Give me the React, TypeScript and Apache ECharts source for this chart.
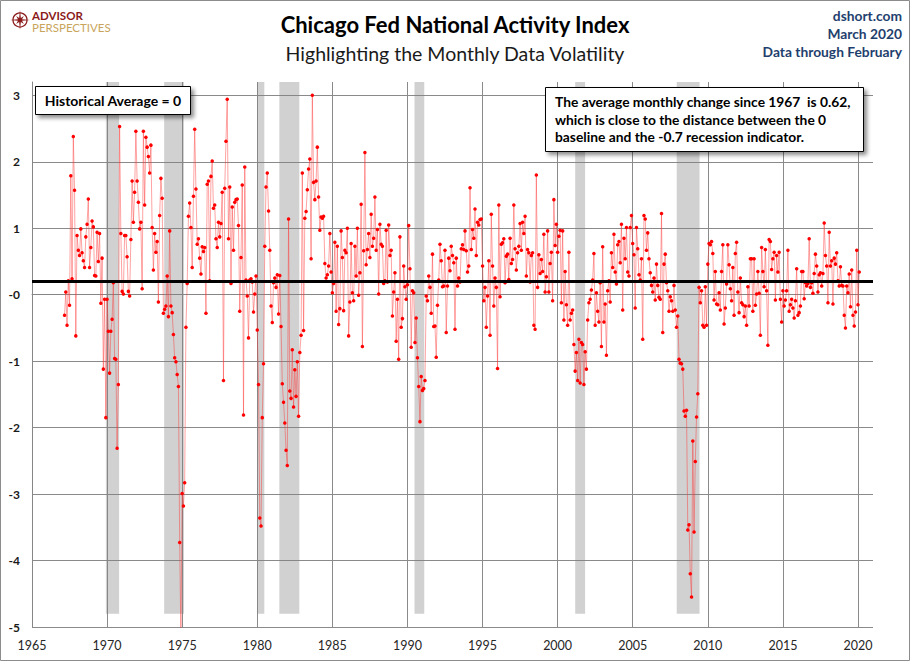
import React, { useEffect, useRef } from "react";
import * as echarts from "echarts";

// Chicago Fed National Activity Index, monthly, starting March 1967
const START_YEAR = 1967;
const START_MONTH = 3;

const cfnai1960s = [
  /*1967 Mar-Dec*/ -0.31, 0.04, -0.46, 0.21, -0.16, 1.79, 0.24, 2.38, 1.57, -0.62,
  /*1968*/ 0.89, 0.67, 0.59, 0.99, 0.63, 0.51, 0.41, 0.87, 1.06, 1.44, 0.41, 0.71,
  /*1969*/ 1.11, 1.02, 0.29, 0.28, 0.94, 0.5, 0.92, -0.13, 0.55, -1.12, -0.07, -1.85,
];
const cfnai1970s = [
  /*1970*/ -0.07, -0.55, -1.18, -0.55, -0.37, 0.18, -0.96, -0.97, -2.31, -1.35, 2.53, 0.92,
  /*1971*/ 0.05, 0.01, 0.89, 0.89, 0.57, 0.05, -0.02, 0.83, 1.71, 1.09, 1.54, 2.46,
  /*1972*/ 1.71, 1.39, 0.99, 1.09, 0.09, 2.46, 1.35, 2.37, 2.22, 2.08, 1.83, 2.25,
  /*1973*/ 1.01, 0.37, 0.92, 0.64, 0.8, -0.11, 1.19, 1.75, 1.45, -0.28, -0.22, -0.17,
  /*1974*/ 0.28, -0.33, 0.96, -0.17, -0.27, -0.6, -0.95, -1.01, -1.2, -1.38, -3.73, -5.2,
  /*1975*/ -2.99, -3.18, -2.83, -0.49, 0.17, 1.18, 1.38, 1.01, 0.41, 1.48, 2.49, 1.59,
  /*1976*/ 0.76, 0.84, 0.55, 0.31, 0.72, 0.65, 0.71, -0.28, 1.66, 1.71, 0.21, 1.78,
  /*1977*/ 2.01, 1.3, 1.35, 0.84, 0.71, 1.09, 0.87, 1.07, 1.54, -1.29, 1.6, 2.31,
  /*1978*/ 2.94, 0.84, 1.62, 0.17, 1.32, 0.67, 1.39, 1.43, 1.44, 1.04, -0.25, 0.56,
  /*1979*/ 1.65, -1.81, 1.92, 0.22, -0.02, -0.65, 0.22, 0.24, 0.19, -0.26, 0.01, 0.28,
];
const cfnai1980s = [
  /*1980*/ -0.53, -1.35, -3.36, -3.48, -1.85, -1.04, 0.73, 1.62, 1.83, 1.26, 0.67, -0.17,
  /*1981*/ -0.42, 0.18, 0.25, 0.11, 0.3, -0.29, 0.29, -0.48, -1.34, -1.62, -1.93, -2.34,
  /*1982*/ -2.57, 1.14, -1.45, -1.56, -0.83, -1.69, -1.13, -1.53, -1.01, -1.83, -0.87, -0.61,
  /*1983*/ 1.83, -0.54, 1.15, 1.25, 1.58, 1.89, 2.04, 0.54, 3.0, 1.69, 1.43, 1.71,
  /*1984*/ 2.22, 1.47, 0.97, 1.17, 1.15, 1.18, 0.47, 0.25, 0.3, 0.43, 0.92, 0.34,
  /*1985*/ 0.03, 0.17, 0.79, -0.25, 0.73, -0.45, -0.21, 0.96, 0.56, -0.24, 0.67, 0.63,
  /*1986*/ 1.0, -0.62, -0.11, 0.77, 0.03, -0.09, 0.73, 0.28, 1.0, -0.01, 0.33, 1.36,
  /*1987*/ -0.78, 0.66, 2.14, 0.45, 0.68, 0.92, 0.56, 1.21, 0.73, 0.85, 1.47, 0.67,
  /*1988*/ 0.98, 0.01, 1.06, 0.76, 0.73, 0.17, 0.21, 0.97, 0.19, 1.05, 0.59, 0.67,
  /*1989*/ -0.32, 0.04, 0.33, -0.7, -0.07, -0.97, 0.87, -0.49, -0.36, 0.43, 0.12, -0.07,
];
const cfnai1990s = [
  /*1990*/ 0.15, 1.04, 0.39, -0.79, 0.06, 0.03, -0.72, -0.35, -0.95, -1.38, -1.91, -1.23,
  /*1991*/ -1.44, -1.41, -1.29, -0.02, -0.09, 0.28, 0.11, -0.28, 0.61, -0.48, -0.47, -0.94,
  /*1992*/ -0.16, 0.22, 0.76, 0.51, 0.12, 0.13, 0.67, -0.57, 0.13, 0.55, 0.36, 0.73,
  /*1993*/ 0.59, 0.48, -0.52, 0.55, 0.13, 0.25, 0.19, 0.69, 0.75, 0.68, 0.96, 0.66,
  /*1994*/ 0.34, 0.43, 1.61, 0.68, 0.98, 0.85, 1.29, 0.59, 1.09, 1.05, 1.13, 1.14,
  /*1995*/ 0.43, -0.09, 0.11, -0.49, -0.02, 0.51, -0.61, 1.21, 0.43, -0.17, 0.25, 0.11,
  /*1996*/ -1.11, 1.35, -0.03, 0.76, 0.78, 0.84, 0.18, 0.58, 0.61, 0.23, 0.85, 0.47,
  /*1997*/ 0.53, 1.35, 0.69, 0.37, 0.63, 0.73, 1.07, 0.67, 1.09, 0.92, 1.18, 0.28,
  /*1998*/ 0.68, 0.63, 0.19, 0.59, 0.63, -0.46, -0.52, 1.8, 0.11, 0.6, 0.32, 0.53,
  /*1999*/ 0.35, 0.91, 0.04, 0.27, 0.96, 0.04, 0.47, 0.64, -0.09, 1.43, 0.74, 1.06,
];
const cfnai2000s = [
  /*2000*/ 0.64, 0.88, 0.97, -0.12, 0.96, -0.38, 0.35, -0.15, -0.46, 0.64, -0.38, -0.28,
  /*2001*/ -0.23, -0.75, -1.15, -0.87, -1.29, -0.67, -1.33, -0.72, -0.75, -1.35, -0.86, -1.12,
  /*2002*/ -0.38, -0.12, -0.07, 0.07, 0.22, 0.62, -0.46, 0.03, -0.25, -0.41, 0.18, -0.78,
  /*2003*/ 0.72, -0.41, -0.14, -0.91, 0.06, 0.21, -0.11, 0.63, 0.41, 0.91, 0.34, 0.16,
  /*2004*/ 0.75, 0.8, 0.48, 1.06, -0.23, 0.85, 0.54, 1.01, 0.34, 0.28, 1.01, 1.19,
  /*2005*/ 0.77, 0.6, -0.2, 1.01, 0.69, 0.3, 0.22, 0.54, -0.67, 1.19, 1.14, 0.67,
  /*2006*/ 0.93, 0.54, 0.33, 0.14, 0.04, 0.25, -0.08, 0.46, 0.14, -0.04, -0.07, 1.22,
  /*2007*/ -0.57, 0.46, 0.61, 0.18, 0.06, -0.25, -0.03, -0.09, -0.25, 0.14, -0.23, -0.49,
  /*2008*/ -0.32, -0.97, -1.03, -1.04, -1.12, -1.75, -1.83, -1.74, -3.54, -3.46, -4.2, -4.55,
  /*2009*/ -2.2, -3.57, -2.51, -1.84, -1.49, 0.11, -0.12, 0.06, -0.46, -0.49, 0.12, -0.46,
];
const cfnai2010s = [
  /*2010*/ 0.46, 0.77, 0.75, 0.8, 0.62, -0.08, 0.35, -0.14, -0.15, 0.03, -0.23, 0.35,
  /*2011*/ 0.75, -0.44, -0.2, 0.16, 0.75, 0.45, 0.09, -0.09, 0.41, -0.31, 0.62, 0.79,
  /*2012*/ 0.04, -0.27, 0.25, -0.12, -0.15, -0.33, -0.17, -0.46, 0.12, -0.17, 0.54, 0.54,
  /*2013*/ -0.25, 0.54, -0.16, 0.01, 0.35, 0.02, -0.61, 0.71, 0.35, 0.12, 0.68, 0.06,
  /*2014*/ -0.76, 0.83, 0.8, 0.38, 0.54, 0.64, -0.08, 0.59, 0.34, 0.64, -0.07, -0.41,
  /*2015*/ 0.06, -0.17, -0.08, 0.06, 0.67, -0.25, -0.15, -0.07, -0.2, -0.35, -0.09, 0.39,
  /*2016*/ -0.31, -0.27, -0.17, 0.35, 0.35, -0.06, 0.18, 0.13, 0.17, 0.84, 0.11, 0.18,
  /*2017*/ 0.02, 0.32, 0.61, 0.43, 0.04, 0.3, 0.33, 0.13, 0.32, 1.08, 0.59, 0.43,
  /*2018*/ -0.12, 0.94, 0.43, 0.51, -0.14, 0.55, 0.46, 0.63, 0.21, 0.13, 0.42, 0.14,
  /*2019*/ 0.13, -0.31, -0.5, 0.13, 0.03, 0.31, -0.18, 0.37, -0.31, -0.47, -0.26, 0.67,
];
const cfnai2020s = [/*2020 Jan-Feb*/ -0.15, 0.34];

// NBER recessions (decimal years, as shaded on the chart)
const recessionStart = [1969.92, 1973.8, 1980.0, 1981.47, 1990.47, 2001.17, 2007.93];
const recessionEnd = [1970.8, 1975.12, 1980.47, 1982.8, 1991.12, 2001.83, 2009.45];

const HIGHLIGHT_LEVEL = 0.2;

const FONT = 'Lato, "Open Sans", "Noto Sans", sans-serif';

const allValues = [
  ...cfnai1960s,
  ...cfnai1970s,
  ...cfnai1980s,
  ...cfnai1990s,
  ...cfnai2000s,
  ...cfnai2010s,
  ...cfnai2020s,
];

function buildOption() {
  const seriesData = allValues.map((v, i) => [START_YEAR + (START_MONTH - 1 + i) / 12, v]);
  const areas = recessionStart.map((s, i) => [
    { xAxis: s, yAxis: -4.8 },
    { xAxis: recessionEnd[i], yAxis: 3.2 },
  ]);

  // compass rose star for logo
  const cx = 20, cy = 20;
  const starPts: number[][] = [];
  for (let k = 0; k < 16; k++) {
    const ang = (k * Math.PI) / 8 - Math.PI / 2;
    const r = k % 4 === 0 ? 10 : k % 2 === 0 ? 5.5 : 2.2;
    starPts.push([cx + r * Math.cos(ang), cy + r * Math.sin(ang)]);
  }

  const header = (text: string, y: number) => ({
    type: "text",
    x: 902,
    y,
    style: {
      text,
      fill: "#1f3f6e",
      fontFamily: FONT,
      fontWeight: "bold",
      fontSize: 13.8,
      textAlign: "right",
      textVerticalAlign: "middle",
    },
  });

  return {
    animation: false,
    backgroundColor: "#ffffff",
    grid: { left: 32, right: 37, top: 82, bottom: 34, containLabel: false },
    xAxis: {
      type: "value",
      min: 1965,
      max: 2021,
      interval: 5,
      axisLine: { show: true, lineStyle: { color: "#868686", width: 1 } },
      axisTick: { show: false },
      axisLabel: {
        margin: 12,
        fontSize: 12.5,
        color: "#262626",
        fontFamily: FONT,
        showMaxLabel: false,
        formatter: (v: number) => (v % 5 === 0 ? String(v) : ""),
      },
      splitLine: { show: true, showMaxLine: false, lineStyle: { color: "#8a8a8a", width: 1 } },
    },
    yAxis: {
      type: "value",
      min: -5,
      max: 3.2,
      interval: 1,
      axisLine: { show: true, lineStyle: { color: "#868686", width: 1 } },
      axisTick: { show: false },
      axisLabel: {
        margin: 12,
        fontSize: 12,
        color: "#1a1a1a",
        fontFamily: FONT,
        fontWeight: "bold",
        showMaxLabel: false,
        formatter: (v: number) => (!Number.isInteger(v) ? "" : v === 0 ? "-0" : String(v)),
      },
      splitLine: { show: true, showMaxLine: false, lineStyle: { color: "#8a8a8a", width: 1 } },
    },
    series: [
      {
        name: "recessions",
        type: "line",
        data: [],
        z: 1,
        silent: true,
        markArea: {
          silent: true,
          itemStyle: { color: "rgba(128,128,128,0.36)" },
          data: areas,
        },
        markLine: {
          silent: true,
          symbol: ["none", "none"],
          label: { show: false },
          lineStyle: { color: "#000000", width: 3, type: "solid" },
          data: [{ yAxis: HIGHLIGHT_LEVEL }],
        },
      },
      {
        name: "CFNAI",
        type: "line",
        data: seriesData,
        z: 3,
        clip: true,
        symbol: "circle",
        symbolSize: 3.5,
        showAllSymbol: true,
        itemStyle: { color: "#ff0000" },
        lineStyle: { color: "rgba(255,50,50,0.45)", width: 1 },
      },
    ],
    graphic: [
      // outer frame
      {
        type: "rect",
        shape: { x: 0.5, y: 0.5, width: 909, height: 660 },
        style: { fill: "none", stroke: "#8c8c8c", lineWidth: 1 },
        silent: true,
      },
      // logo
      {
        type: "circle",
        shape: { cx, cy, r: 7 },
        style: { fill: "none", stroke: "#8b1a1a", lineWidth: 1.3 },
      },
      {
        type: "polygon",
        shape: { points: starPts },
        style: { fill: "#8b1a1a" },
      },
      {
        type: "text",
        x: 32,
        y: 15.8,
        style: {
          text: "ADVISOR",
          fill: "#8b1a1a",
          fontFamily: FONT,
          fontWeight: "bold",
          fontSize: 11.5,
          textAlign: "left",
          textVerticalAlign: "middle",
        },
      },
      {
        type: "text",
        x: 32,
        y: 27.6,
        style: {
          text: "PERSPECTIVES",
          fill: "#c9a55c",
          fontFamily: FONT,
          fontSize: 11.5,
          textAlign: "left",
          textVerticalAlign: "middle",
        },
      },
      // titles
      {
        type: "text",
        x: 455,
        y: 24,
        style: {
          text: "Chicago Fed National Activity Index",
          fill: "#000000",
          fontFamily: FONT,
          fontWeight: "bold",
          fontSize: 22,
          textAlign: "center",
          textVerticalAlign: "middle",
        },
      },
      {
        type: "text",
        x: 455,
        y: 53,
        style: {
          text: "Highlighting the Monthly Data Volatility",
          fill: "#1a1a1a",
          fontFamily: FONT,
          fontSize: 19.5,
          textAlign: "center",
          textVerticalAlign: "middle",
        },
      },
      // right header
      header("dshort.com", 15),
      header("March 2020", 33),
      header("Data through February", 51),
      // annotation boxes
      {
        type: "rect",
        z: 10,
        shape: { x: 35.5, y: 86.5, width: 155, height: 28 },
        style: {
          fill: "#ffffff",
          stroke: "#000000",
          lineWidth: 1,
          shadowBlur: 4,
          shadowOffsetX: 3,
          shadowOffsetY: 3,
          shadowColor: "rgba(0,0,0,0.45)",
        },
      },
      {
        type: "text",
        z: 11,
        x: 113,
        y: 100.5,
        style: {
          text: "Historical Average = 0",
          fill: "#000000",
          fontFamily: FONT,
          fontWeight: "bold",
          fontSize: 14,
          textAlign: "center",
          textVerticalAlign: "middle",
        },
      },
      {
        type: "rect",
        z: 10,
        shape: { x: 545.5, y: 87.5, width: 318, height: 64 },
        style: {
          fill: "#ffffff",
          stroke: "#000000",
          lineWidth: 1,
          shadowBlur: 4,
          shadowOffsetX: 3,
          shadowOffsetY: 3,
          shadowColor: "rgba(0,0,0,0.45)",
        },
      },
      {
        type: "text",
        z: 11,
        x: 555,
        y: 93,
        style: {
          text:
            "The average monthly change since 1967  is 0.62,\nwhich is close to the distance between the 0\nbaseline and the -0.7 recession indicator.",
          fill: "#000000",
          fontFamily: FONT,
          fontWeight: "bold",
          fontSize: 13.8,
          lineHeight: 17.5,
          textAlign: "left",
          textVerticalAlign: "top",
        },
      },
    ],
  };
}

export default function App() {
  const ref = useRef<HTMLDivElement>(null);
  useEffect(() => {
    if (!ref.current) return;
    const chart = echarts.init(ref.current, null, { renderer: "svg" });
    chart.setOption(buildOption() as any);
    return () => {
      chart.dispose();
    };
  }, []);
  return (
    <div
      ref={ref}
      style={{
        position: "fixed",
        left: 0,
        top: 0,
        width: 910,
        height: 661,
        background: "#ffffff",
      }}
    />
  );
}
